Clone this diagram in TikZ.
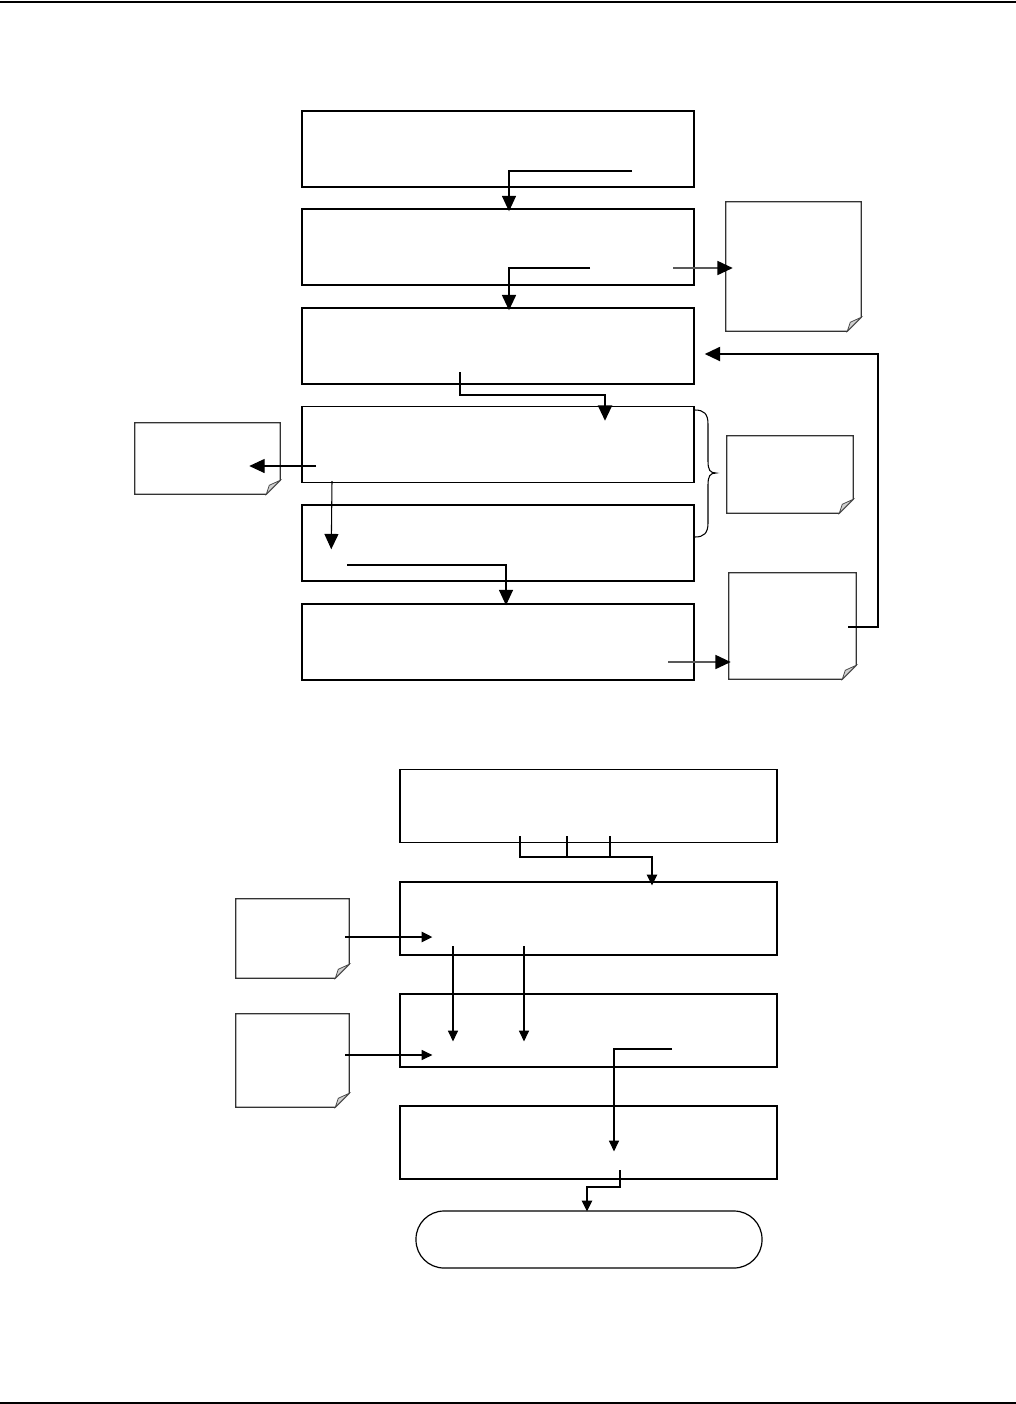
\documentclass[tikz,border=0pt]{standalone}
\usetikzlibrary{arrows.meta,calc}
\tikzset{
  stepbox/.style={draw=black,line width=1.1pt,rectangle,inner sep=0pt},
  notebox/.style={draw=none,rectangle,inner sep=0pt},
  termbox/.style={draw=black,line width=0.9pt,rectangle,rounded corners=21pt,inner sep=0pt},
  arrA/.style={-{Triangle[length=11.5pt,width=10.5pt]},line width=0.8pt},
  arrG/.style={-{Triangle[length=11.5pt,width=10.5pt,color=black]},line width=1.3pt,draw=black!65},
  arrB/.style={-{Triangle[length=8pt,width=7.5pt]},line width=0.8pt},
  thin1/.style={line width=0.8pt},
}
\newcommand\dognote[1]{%
  \draw[line width=0.9pt,draw=black!80] (#1.north west) -- (#1.north east) -- ($(#1.south east)+(0,-14)$) -- ($(#1.south east)+(-14,0)$) -- (#1.south west) -- cycle;
  \filldraw[fill=black!18,draw=black!70,line width=0.6pt] ($(#1.south east)+(0,-14)$) -- ($(#1.south east)+(-14,0)$) -- ($(#1.south east)+(-11,-9)$) -- cycle;
}
\begin{document}
\begin{tikzpicture}[x=0.75pt,y=-0.75pt]
\useasboundingbox (0,0) rectangle (1016,1404);
\draw[line width=1.5pt] (0,1.5) -- (1016,1.5);
\draw[line width=1.5pt] (0,1402.5) -- (1016,1402.5);

% upper flow
\foreach \n/\y in {b1/149,b2/247,b3/346,b4/444.5,b5/543,b6/642}
  \node[stepbox,minimum width=294pt,minimum height=57pt] (\n) at (498,\y) {};

\node[notebox,minimum width=101.25pt,minimum height=96.75pt] (nA) at (793.5,266.5) {};
\node[notebox,minimum width=94.5pt,minimum height=57.75pt] (nB) at (790,474.5) {};
\node[notebox,minimum width=95.25pt,minimum height=79.5pt] (nC) at (792.5,626) {};
\node[notebox,minimum width=108.75pt,minimum height=53.25pt] (nL) at (207.5,458.5) {};
\dognote{nA}\dognote{nB}\dognote{nC}\dognote{nL}

\coordinate (s1) at (632,171);
\draw[arrA] (s1) -| ($(b2.north)+(11,3)$);
\coordinate (s2) at (590,268);
\draw[arrA,line width=1.3pt] (s2) -| ($(b3.north)+(11,3)$);
\coordinate (s3) at (673,268);
\draw[arrG] (s3) -- ($(nA.west|-s3)+(7,0)$);
\coordinate (s4) at (460,372);
\draw[arrA,line width=1.5pt] (s4) -- (460,395) -| ($(b4.north)+(107,15)$);
\coordinate (s5) at (848,627);
\draw[arrA,line width=1.5pt] (s5) -- (878,627) |- ($(b3.east)+(10,8)$);
\coordinate (s6) at (316,466);
\draw[arrA] (s6) -- ($(nL.east)+(-31,7.5)$);
\coordinate (s7) at (332,481);
\draw[arrA] (s7) -- ($(b5.north west)+(30,45)$);
\coordinate (s8) at (347,565);
\draw[arrA] (s8) -| ($(b6.north)+(8,2)$);
\coordinate (s9) at (668,662);
\draw[arrG] (s9) -- ($(nC.west|-s9)+(2,0)$);

% brace
\draw[line width=0.8pt] (695,410) .. controls (704,410) and (708,414) .. (708,424) -- (708,461)
  .. controls (708,470) and (710,473) .. (716,473)
  .. controls (710,473) and (708,476) .. (708,485) -- (708,523)
  .. controls (708,533) and (704,537) .. (695,537);

% lower flow
\foreach \n/\y in {b7/806,b8/918.5,b9/1030.5,b10/1142.5}
  \node[stepbox,line width=0.9pt,minimum width=282.75pt,minimum height=54.75pt] (\n) at (588.5,\y) {};
\node[termbox,minimum width=259.5pt,minimum height=42.75pt] (term) at (589,1239.5) {};
\node[notebox,minimum width=84.75pt,minimum height=59.25pt] (nD) at (292.5,938.5) {};
\node[notebox,minimum width=84.75pt,minimum height=69.75pt] (nE) at (292.5,1060.5) {};
\dognote{nD}\dognote{nE}

\coordinate (t1) at (520,836);
\coordinate (t2) at (567,836);
\coordinate (t3) at (610,836);
\coordinate (j1) at (567,857);
\draw[thin1] (t1) |- (j1);
\draw[thin1] (t2) -- (j1);
\draw[thin1] (t3) -- (610,857);
\draw[arrB,line width=1.6pt] (j1) -| ($(b8.north)+(63.5,4)$);

\draw[arrB,line width=1.6pt] ($(nD.east)+(-4,-1.5)$) -- ($(b8.west)+(33,18.5)$);
\draw[arrB] ($(nE.east)+(-4,-5.5)$) -- ($(b9.west)+(33,24.5)$);

\coordinate (u1) at (453,946);
\coordinate (u2) at (524,946);
\draw[arrB] (u1) -- ($(b9.north)+(-135.5,48)$);
\draw[arrB] (u2) -- ($(b9.north)+(-64.5,48)$);

\coordinate (v1) at (672,1049);
\draw[arrB] (v1) -| ($(b10.north)+(25.5,46)$);

\coordinate (w1) at (620,1170);
\draw[arrB,line width=1.6pt] (w1) -- (620,1187) -| ($(term.north)+(-2,1)$);
\end{tikzpicture}
\end{document}
